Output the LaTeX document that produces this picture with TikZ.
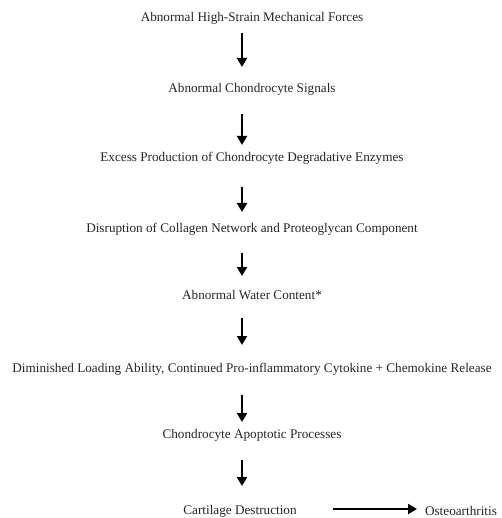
\documentclass[tikz,border=0pt]{standalone}
\usepackage{fontspec}
\setmainfont{Liberation Serif}
\usetikzlibrary{arrows.meta}
\begin{document}
\begin{tikzpicture}[x=1pt,y=-1pt,
  lbl/.style={inner sep=0pt,font=\fontsize{13.2}{15}\selectfont,text=black!85},
  flow/.style={line width=2pt,-{Triangle[length=9pt,width=10pt]}}]
\useasboundingbox[fill=white] (0,0) rectangle (501,518);
\node[lbl] (t1) at (252,18) {Abnormal High-Strain Mechanical Forces};
\node[lbl] (t2) at (252,89) {Abnormal Chondrocyte Signals};
\node[lbl] (t3) at (252,158) {Excess Production of Chondrocyte Degradative Enzymes};
\node[lbl] (t4) at (252,229) {Disruption of Collagen Network and Proteoglycan Component};
\node[lbl] (t5) at (252,295) {Abnormal Water Content*};
\node[lbl] (t6) at (252,369) {Diminished Loading Ability, Continued Pro-inflammatory Cytokine + Chemokine Release};
\node[lbl] (t7) at (252,435) {Chondrocyte Apoptotic Processes};
\node[lbl] (t8) at (240,511) {Cartilage Destruction};
\node[lbl] (t9) at (461,511) {Osteoarthritis};
\coordinate (a1s) at (242,33);  \coordinate (a1e) at (242,67);
\coordinate (a2s) at (242,114); \coordinate (a2e) at (242,145);
\coordinate (a3s) at (242,187); \coordinate (a3e) at (242,212);
\coordinate (a4s) at (242,253); \coordinate (a4e) at (242,276);
\coordinate (a5s) at (242,318); \coordinate (a5e) at (242,345);
\coordinate (a6s) at (242,395); \coordinate (a6e) at (242,422);
\coordinate (a7s) at (242,460); \coordinate (a7e) at (242,486);
\coordinate (h1s) at (333,509); \coordinate (h1e) at (417,509);
\foreach \i in {1,...,7} {\draw[flow] (a\i s) -- (a\i e);}
\draw[flow] (h1s) -- (h1e);
\end{tikzpicture}
\end{document}
